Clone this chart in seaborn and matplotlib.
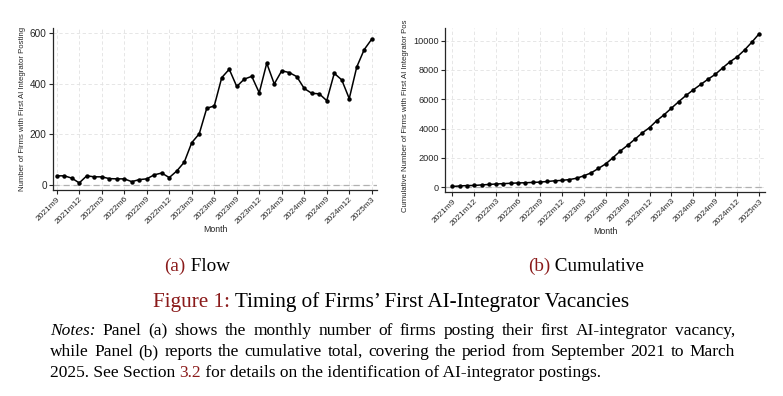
import pandas as pd
import seaborn as sns
import matplotlib.pyplot as plt

# monthly firms posting first AI-integrator vacancy, 2021m9 .. 2025m3
flow = [36, 36, 27, 8, 36, 32, 32, 25, 24, 24, 13, 21, 24, 40, 47, 29,
        55, 90, 167, 202, 303, 312, 424, 457, 389, 418, 429, 364,
        481, 399, 451, 444, 428, 381, 362, 360, 333, 441, 415, 341,
        466, 535, 576]
cumulative = [36, 72, 99, 107, 143, 175, 207, 232, 256, 280, 293, 314, 338,
              378, 425, 454, 509, 599, 766, 968, 1271, 1583, 2007, 2464, 2853,
              3271, 3700, 4064, 4545, 4944, 5395, 5839, 6267, 6648, 7010, 7370,
              7703, 8144, 8559, 8900, 9366, 9901, 10477]
tick_labels = ["2021m9", "2021m12", "2022m3", "2022m6", "2022m9", "2022m12",
               "2023m3", "2023m6", "2023m9", "2023m12", "2024m3", "2024m6",
               "2024m9", "2024m12", "2025m3"]
flow_yticks = [0, 200, 400, 600]
cum_yticks = [0, 2000, 4000, 6000, 8000, 10000]

df = pd.DataFrame({"t": range(len(flow)), "flow": flow, "cumulative": cumulative})

sns.set_style("ticks")
plt.rcParams["font.family"] = ["Liberation Sans", "DejaVu Sans"]

W, H = 783, 396
fig = plt.figure(figsize=(W / 100, H / 100), dpi=100)
ax1 = fig.add_axes([53 / W, 1 - 190 / H, 324 / W, 162 / H])
ax2 = fig.add_axes([445 / W, 1 - 192 / H, 320 / W, 164 / H])

red = "#8a1a1a"


def style_axis(ax, col, yticks, ylim, xlim, ylabel, ytick_size):
    sns.lineplot(data=df, x="t", y=col, ax=ax, color="black", marker="o",
                 markersize=3.2, markeredgewidth=0, linewidth=1.1)
    ax.axhline(0, color="#b0b0b0", linestyle=(0, (5, 3)), linewidth=0.9, zorder=1)
    ax.set_xticks(range(0, len(flow), 3))
    ax.set_xticklabels(tick_labels, rotation=45, ha="right",
                       rotation_mode="anchor", fontsize=6.0)
    ax.set_yticks(yticks)
    ax.tick_params(axis="y", labelsize=ytick_size, length=3, width=0.8, pad=1.5)
    ax.tick_params(axis="x", length=3, width=0.8, pad=1.0)
    ax.set_ylim(ylim)
    ax.set_xlim(xlim)
    ax.grid(True, color="#e2e2e2", linestyle=(0, (4, 3)), linewidth=0.6)
    ax.set_axisbelow(True)
    for s in ["top", "right"]:
        ax.spines[s].set_visible(False)
    for s in ["left", "bottom"]:
        ax.spines[s].set_linewidth(0.9)
    ax.set_xlabel("Month", fontsize=6.3, labelpad=0)
    ax.set_ylabel(ylabel, fontsize=5.6, labelpad=3)


style_axis(ax1, "flow", flow_yticks, (-20, 620), (-0.5, 42.7),
           "Number of Firms with First AI Integrator Posting", 7.2)
style_axis(ax2, "cumulative", cum_yticks, (-340, 10870), (-1, 42.8),
           "Cumulative Number of Firms with First AI Integrator Pos", 6.6)
ax2.yaxis.label.set_position((0, 0.463))

fig.canvas.draw()
renderer = fig.canvas.get_renderer()
serif = ["Liberation Serif", "DejaVu Serif"]


def width_of(s, size, style="normal"):
    t = fig.text(0, 0, s, fontsize=size, family=serif, style=style)
    w = t.get_window_extent(renderer).width
    t.remove()
    return w


def runs(pieces, x, y, size, center=False):
    # pieces: list of (text, color, style); x,y in pixels (y from top)
    total = sum(width_of(s, size, st) for s, c, st in pieces)
    if center:
        x = x - total / 2
    for s, c, st in pieces:
        fig.text(x / W, 1 - y / H, s, fontsize=size, family=serif, style=st,
                 color=c, va="baseline")
        x += width_of(s, size, st)


def justified(pieces, x0, x1, y, size):
    # pieces: list of (word, color, style)
    widths = [width_of(s, size, st) for s, c, st in pieces]
    gap = (x1 - x0 - sum(widths)) / (len(pieces) - 1)
    x = x0
    for (s, c, st), w in zip(pieces, widths):
        fig.text(x / W, 1 - y / H, s, fontsize=size, family=serif, style=st,
                 color=c, va="baseline")
        x += w + gap


cap = 13.8
runs([("(a)", red, "normal"), (" Flow", "black", "normal")], 197, 271, cap, center=True)
runs([("(b)", red, "normal"), (" Cumulative", "black", "normal")], 586, 271, cap, center=True)
runs([("Figure 1:", red, "normal"),
      (" Timing of Firms\u2019 First AI-Integrator Vacancies", "black", "normal")],
     391, 307, 15.2, center=True)

note = 12.5
line1 = [("Notes:", "black", "italic")] + [
    (w, "black", "normal") for w in
    "Panel (a) shows the monthly number of firms posting their first AI-integrator vacancy,".split()]
line2 = [(w, "black", "normal") for w in
         "while Panel (b) reports the cumulative total, covering the period from September 2021 to March".split()]
justified(line1, 50, 735, 335, note)
justified(line2, 50, 735, 356, note)
runs([("2025. See Section ", "black", "normal"), ("3.2", red, "normal"),
      (" for details on the identification of AI-integrator postings.", "black", "normal")],
     50, 377, note)

fig.savefig("out.png", dpi=100)
